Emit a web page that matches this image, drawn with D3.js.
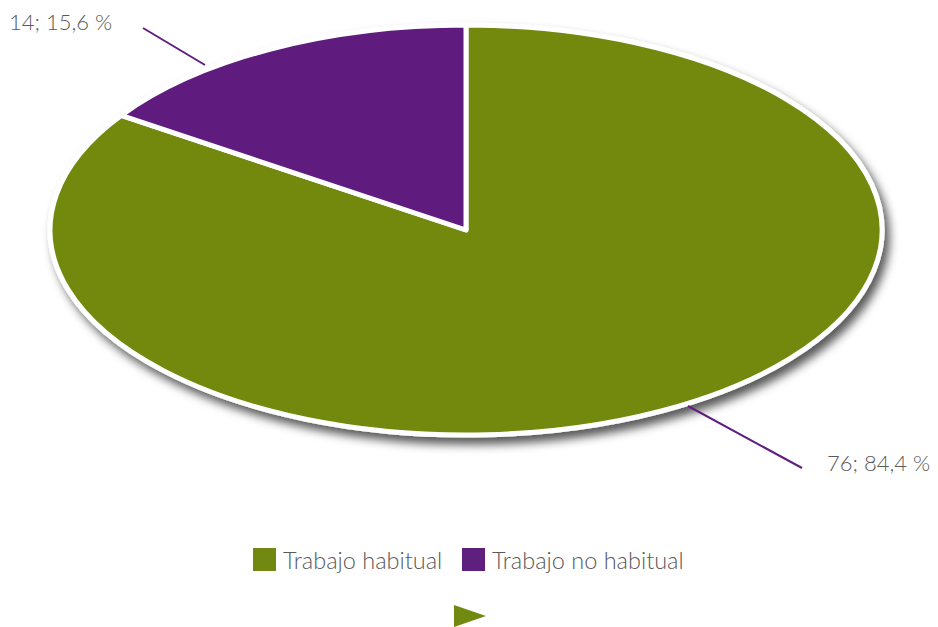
<!DOCTYPE html>
<html>
<head>
<meta charset="utf-8">
<script src="https://cdn.jsdelivr.net/npm/d3@7"></script>
<style>
  html, body { margin: 0; padding: 0; background: #ffffff; }
  svg { display: block; }
  text { font-family: "Lato", "Open Sans", sans-serif; font-weight: 300; fill: #595959; }
</style>
</head>
<body>
<svg id="chart" width="938" height="627"></svg>
<script>
// Work type breakdown
const categories = ["Trabajo habitual", "Trabajo no habitual"];
const counts = [76, 14];
const percentLabels = ["84,4 %", "15,6 %"];
const colors = ["#728911", "#5f1f7e"];

const W = 938, H = 627;
const cx = 466, cy = 230, rx = 416, ry = 205;

const svg = d3.select("#chart");

// Soft drop shadow under the pie
const defs = svg.append("defs");
const f = defs.append("filter").attr("id", "shadow")
  .attr("x", "-10%").attr("y", "-10%").attr("width", "120%").attr("height", "130%");
f.append("feDropShadow").attr("dx", 5).attr("dy", 7).attr("stdDeviation", 5)
  .attr("flood-color", "#000").attr("flood-opacity", 0.65);

const pie = d3.pie().sort(null).value(d => d)(counts);
const arc = d3.arc().innerRadius(0).outerRadius(1);

// Pie drawn on a unit circle, then flattened into an ellipse
const g = svg.append("g").attr("filter", "url(#shadow)");
const pg = g.append("g").attr("transform", `translate(${cx},${cy}) scale(${rx},${ry})`);
pg.selectAll("path").data(pie).join("path")
  .attr("d", arc)
  .attr("fill", (d, i) => colors[i])
  .attr("stroke", "#ffffff")
  .attr("stroke-width", 5)
  .attr("stroke-linejoin", "round")
  .attr("vector-effect", "non-scaling-stroke");

// Data labels with leader lines
const labelLayout = [
  { line: [[688, 406], [802, 468]], text: [827, 471], anchor: "start" },
  { line: [[143, 28], [205, 65]], text: [9, 30], anchor: "start" }
];
labelLayout.forEach((l, i) => {
  svg.append("line")
    .attr("x1", l.line[0][0]).attr("y1", l.line[0][1])
    .attr("x2", l.line[1][0]).attr("y2", l.line[1][1])
    .attr("stroke", colors[1]).attr("stroke-width", 2);
  svg.append("text")
    .attr("x", l.text[0]).attr("y", l.text[1])
    .attr("text-anchor", l.anchor)
    .attr("font-size", 22)
    .text(`${counts[i]}; ${percentLabels[i]}`);
});

// Legend
const legendItems = [{ x: 253 }, { x: 462 }];
categories.forEach((c, i) => {
  const lg = svg.append("g").attr("transform", `translate(${legendItems[i].x},548)`);
  lg.append("rect").attr("width", 23).attr("height", 23).attr("fill", colors[i]);
  lg.append("text").attr("x", 30).attr("y", 21).attr("font-size", 23.5).text(c);
});

// Navigation marker
svg.append("path")
  .attr("d", d3.line()([[454, 605], [486, 616], [454, 627]]) + "Z")
  .attr("fill", colors[0]);
</script>
</body>
</html>
